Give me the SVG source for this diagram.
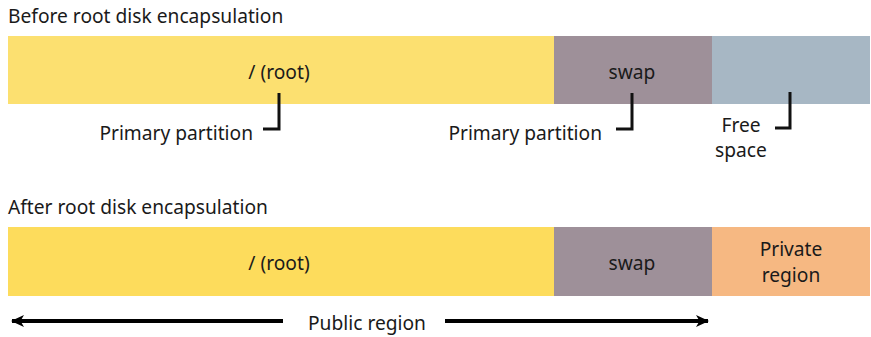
<svg xmlns="http://www.w3.org/2000/svg" width="871" height="337" viewBox="0 0 871 337">
<defs>
<style>
text{font-family:"Noto Sans","DejaVu Sans",sans-serif;font-size:19.2px;fill:#1a1a1a}
.c{text-anchor:middle}
.e{text-anchor:end}
.ln{fill:none;stroke:#111;stroke-width:3}
.ar{fill:none;stroke:#000;stroke-width:4}
</style>
<marker id="ah" markerWidth="13" markerHeight="12" refX="12" refY="6" orient="auto" markerUnits="userSpaceOnUse" viewBox="0 0 13 12">
<path d="M0,0 L13,6 L0,12 L3.5,6 Z" fill="#000"/>
</marker>
</defs>
<rect width="871" height="337" fill="#fff"/>
<text x="8" y="23">Before root disk encapsulation</text>
<g id="root1"><rect x="8" y="36" width="546" height="68" fill="#FCE070"/><text class="c" x="279" y="79">/ (root)</text></g>
<g id="swap1"><rect x="554" y="36" width="158" height="68" fill="#9E9099"/><text class="c" x="632" y="79">swap</text></g>
<g id="free1"><rect x="712" y="36" width="158" height="68" fill="#A7B7C4"/></g>
<g id="lbl1"><text class="e" x="253" y="140">Primary partition</text></g>
<g id="lbl2"><text class="e" x="602" y="140">Primary partition</text></g>
<g id="lbl3"><text class="c" x="741" y="132">Free</text><text class="c" x="741" y="157">space</text></g>
<text x="8" y="214">After root disk encapsulation</text>
<g id="root2"><rect x="8" y="227" width="546" height="69" fill="#FDDC5C"/><text class="c" x="279" y="270">/ (root)</text></g>
<g id="swap2"><rect x="554" y="227" width="158" height="69" fill="#9E9099"/><text class="c" x="632" y="270">swap</text></g>
<g id="priv2"><rect x="712" y="227" width="158" height="69" fill="#F6B882"/><text class="c" x="791" y="256">Private</text><text class="c" x="791" y="282">region</text></g>
<g id="pub"><text class="c" x="367" y="330">Public region</text></g>
<g id="connectors">
<path class="ln" d="M279,93 V129 H263"/>
<path class="ln" d="M632,93 V129 H616"/>
<path class="ln" d="M790,92 V128 H775"/>
<path class="ar" d="M283,321 H12" marker-end="url(#ah)"/>
<path class="ar" d="M445,321 H708" marker-end="url(#ah)"/>
</g>
</svg>
